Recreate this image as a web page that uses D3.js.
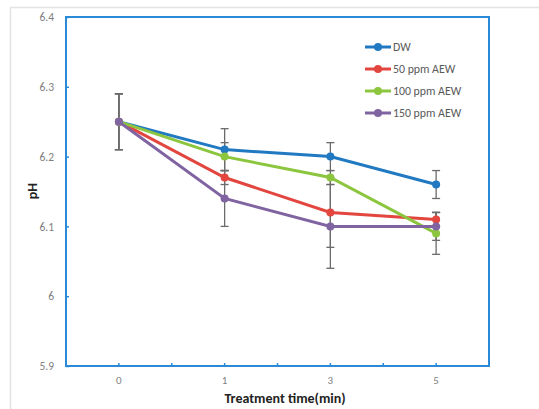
<!DOCTYPE html>
<html>
<head>
<meta charset="UTF-8" />
<script src="https://d3js.org/d3.v7.min.js"></script>
<style>
  body { margin: 0; background: #fff; }
  text { font-family: Calibri, Carlito, "Open Sans", sans-serif; }
</style>
</head>
<body>
<div id="chart"></div>
<script>
// data
const times = ["0", "1", "3", "5"];
const seriesNames = ["DW", "50 ppm AEW", "100 ppm AEW", "150 ppm AEW"];
const seriesColors = ["#2179c2", "#e2463f", "#8cc63f", "#8064a2"];
const dwValues = [6.25, 6.21, 6.20, 6.16];
const aew50Values = [6.25, 6.17, 6.12, 6.11];
const aew100Values = [6.25, 6.20, 6.17, 6.09];
const aew150Values = [6.25, 6.14, 6.10, 6.10];
const dwErr = [0.04, 0.03, 0.02, 0.02];
const aew50Err = [0.04, 0.01, 0.05, 0.01];
const aew100Err = [0.04, 0.02, 0.01, 0.03];
const aew150Err = [0.04, 0.04, 0.06, 0.02];
const yTicks = [5.9, 6, 6.1, 6.2, 6.3, 6.4];

const w = 539, h = 409;
const plotLeft = 66, plotRight = 489, plotTop = 17, plotBottom = 366;

const svg = d3.select("#chart").append("svg")
  .attr("width", w).attr("height", h);

// outer light frame
svg.append("line").attr("x1", 10).attr("x2", w).attr("y1", 7.5).attr("y2", 7.5)
  .attr("stroke", "#e3e3e3").attr("stroke-width", 1.5);
svg.append("line").attr("x1", 10.5).attr("x2", 10.5).attr("y1", 7).attr("y2", h)
  .attr("stroke", "#e3e3e3").attr("stroke-width", 1.5);

const x = d3.scaleBand().domain(times).range([plotLeft, plotRight]);
const y = d3.scaleLinear().domain([5.9, 6.4]).range([plotBottom, plotTop]);
const cx = t => x(t) + x.bandwidth() / 2;

const series = [
  { name: seriesNames[0], color: seriesColors[0], vals: dwValues, err: dwErr },
  { name: seriesNames[1], color: seriesColors[1], vals: aew50Values, err: aew50Err },
  { name: seriesNames[2], color: seriesColors[2], vals: aew100Values, err: aew100Err },
  { name: seriesNames[3], color: seriesColors[3], vals: aew150Values, err: aew150Err }
];

// y axis
const yAxis = svg.append("g").attr("transform", "translate(" + plotLeft + ",0)")
  .call(d3.axisLeft(y).tickValues(yTicks).tickSize(-3).tickPadding(12)
    .tickFormat(d => d3.format("")(d)));
yAxis.select(".domain").remove();
yAxis.selectAll(".tick line").attr("stroke", "#2a8ad8").attr("stroke-width", 1.5);
yAxis.selectAll("text").attr("fill", "#7f7f7f").style("font-size", "11.5px");

// x axis: labels at centres, ticks at centres and boundaries
const xAxis = svg.append("g").attr("transform", "translate(0," + plotBottom + ")")
  .call(d3.axisBottom(x).tickSize(0).tickPadding(10));
xAxis.select(".domain").remove();
xAxis.selectAll("text").attr("fill", "#7f7f7f").style("font-size", "11px");
svg.append("g").selectAll("line")
  .data(times.map(t => cx(t)).concat(times.map(t => x(t)).slice(1)))
  .enter().append("line")
  .attr("x1", d => d).attr("x2", d => d)
  .attr("y1", plotBottom).attr("y2", plotBottom - 3)
  .attr("stroke", "#2a8ad8").attr("stroke-width", 1.5);

// plot frame
svg.append("rect").attr("x", plotLeft).attr("y", plotTop)
  .attr("width", plotRight - plotLeft).attr("height", plotBottom - plotTop)
  .attr("fill", "none").attr("stroke", "#2a8ad8").attr("stroke-width", 2);

// error bars
series.forEach(s => {
  const g = svg.append("g");
  times.forEach((t, i) => {
    const xc = cx(t);
    const lo = y(s.vals[i] - s.err[i]), hi = y(s.vals[i] + s.err[i]);
    g.append("line").attr("x1", xc).attr("x2", xc).attr("y1", lo).attr("y2", hi)
      .attr("stroke", "#6b6b6b").attr("stroke-width", 1.3);
    [lo, hi].forEach(yy => g.append("line")
      .attr("x1", xc - 4).attr("x2", xc + 4).attr("y1", yy).attr("y2", yy)
      .attr("stroke", "#6b6b6b").attr("stroke-width", 1.3));
  });
});

// lines and markers
const line = d3.line().x((d, i) => cx(times[i])).y(d => y(d));
series.forEach(s => {
  svg.append("path").datum(s.vals).attr("d", line)
    .attr("fill", "none").attr("stroke", s.color).attr("stroke-width", 3);
  svg.append("g").selectAll("circle").data(s.vals).enter().append("circle")
    .attr("cx", (d, i) => cx(times[i])).attr("cy", d => y(d)).attr("r", 4)
    .attr("fill", s.color);
});

// legend
const legend = svg.append("g").attr("transform", "translate(365,47)");
series.forEach((s, i) => {
  const row = legend.append("g").attr("transform", "translate(0," + (i * 22) + ")");
  row.append("line").attr("x1", 0).attr("x2", 26).attr("stroke", s.color).attr("stroke-width", 3);
  row.append("circle").attr("cx", 13).attr("r", 4).attr("fill", s.color);
  row.append("text").attr("x", 28).attr("dy", "0.35em").text(s.name)
    .attr("fill", "#595959").style("font-size", "11.8px");
});

// axis titles
svg.append("text").attr("x", 285).attr("y", 403).attr("text-anchor", "middle")
  .style("font-size", "14px").style("font-weight", "bold").attr("fill", "#222")
  .text("Treatment time(min)");
svg.append("text").attr("transform", "translate(37,191) rotate(-90)")
  .attr("text-anchor", "middle").style("font-size", "14px").style("font-weight", "bold")
  .attr("fill", "#222").text("pH");
</script>
</body>
</html>
